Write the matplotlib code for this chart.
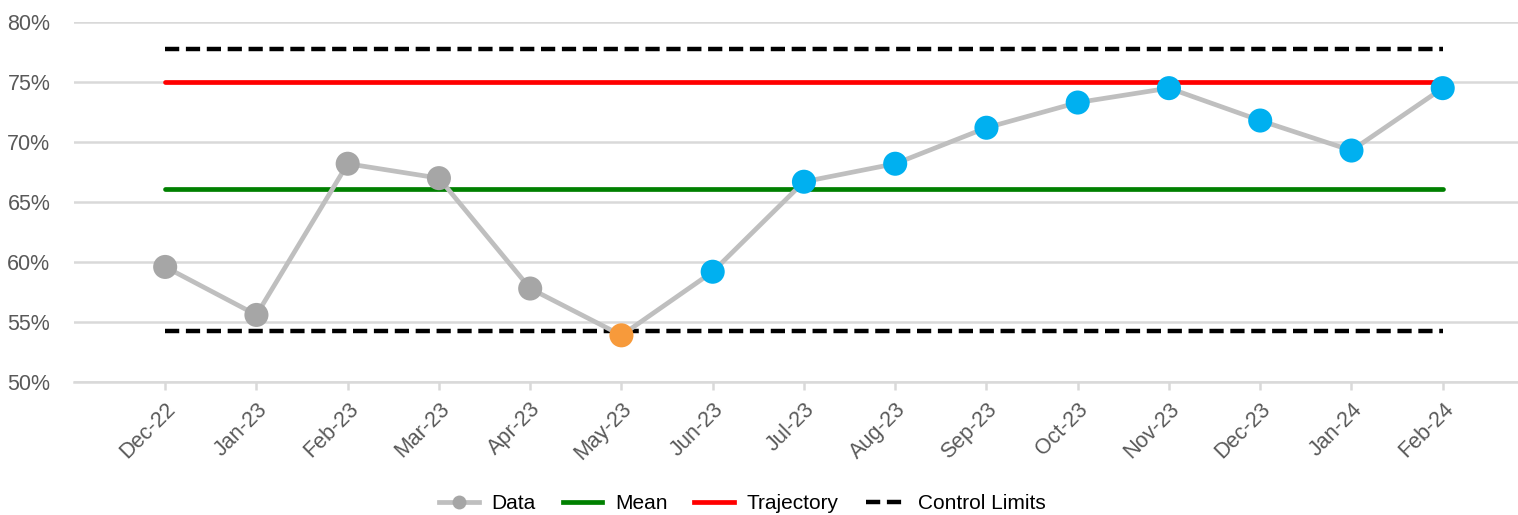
import matplotlib.pyplot as plt
from matplotlib.lines import Line2D
from matplotlib.ticker import FuncFormatter

plt.rcParams['font.family'] = ['Liberation Sans', 'DejaVu Sans']

months = ['Dec-22', 'Jan-23', 'Feb-23', 'Mar-23', 'Apr-23', 'May-23', 'Jun-23', 'Jul-23',
          'Aug-23', 'Sep-23', 'Oct-23', 'Nov-23', 'Dec-23', 'Jan-24', 'Feb-24']
data = [59.6, 55.6, 68.2, 67.0, 57.8, 53.9, 59.2, 66.7, 68.2, 71.2, 73.3, 74.5, 71.8, 69.3, 74.5]
point_colors = ['#A6A6A6'] * 5 + ['#F79A3B'] + ['#00B0F0'] * 9
mean_val = 66.1
trajectory = 75.0
ucl = 77.8
lcl = 54.3

x = list(range(len(months)))

fig = plt.figure(figsize=(15.18, 5.15), dpi=100)
ax = fig.add_axes([0.0487, 0.258, 0.951, 0.699])

ax.set_ylim(50, 80)
ax.set_xlim(-1, 14.82)
ax.set_yticks(range(50, 81, 5))
ax.yaxis.set_major_formatter(FuncFormatter(lambda v, p: f'{v:.0f}%'))
ax.grid(axis='y', color='#D9D9D9', lw=1.8)
ax.set_axisbelow(True)
for s in ['top', 'right', 'left']:
    ax.spines[s].set_visible(False)
ax.spines['bottom'].set_color('#D9D9D9')
ax.spines['bottom'].set_linewidth(1.8)

dash = (0, (3.2, 1.5))
ax.plot(x, [ucl] * len(x), color='black', lw=3.2, linestyle=dash)
ax.plot(x, [lcl] * len(x), color='black', lw=3.2, linestyle=dash)
ax.plot(x, [trajectory] * len(x), color='#FF0000', lw=3.4, solid_capstyle='round')
ax.plot(x, [mean_val] * len(x), color='#008000', lw=3.4, solid_capstyle='round')
ax.plot(x, data, color='#BFBFBF', lw=3.4, zorder=3)
ax.scatter(x, data, s=300, c=point_colors, zorder=4, linewidths=0)

ax.set_xticks(x)
ax.set_xticklabels(months, rotation=45, ha='right', rotation_mode='anchor')
ax.tick_params(axis='x', colors='#D9D9D9', length=6, width=1.8, labelcolor='#595959',
               labelsize=15.5, pad=6)
ax.tick_params(axis='y', length=0, labelcolor='#595959', labelsize=15.5, pad=17)

handles = [
    Line2D([], [], color='#BFBFBF', lw=3.4, marker='o', markersize=10,
           markerfacecolor='#A6A6A6', markeredgewidth=0),
    Line2D([], [], color='#008000', lw=3.4),
    Line2D([], [], color='#FF0000', lw=3.4),
    Line2D([], [], color='black', lw=3.2, linestyle=dash),
]
fig.legend(handles, ['Data', 'Mean', 'Trajectory', 'Control Limits'],
           loc='center', bbox_to_anchor=(0.489, 0.022), ncol=4, frameon=False,
           fontsize=15, handlelength=1.9, columnspacing=1.3, handletextpad=0.6)

fig.savefig('out.png', dpi=100)
